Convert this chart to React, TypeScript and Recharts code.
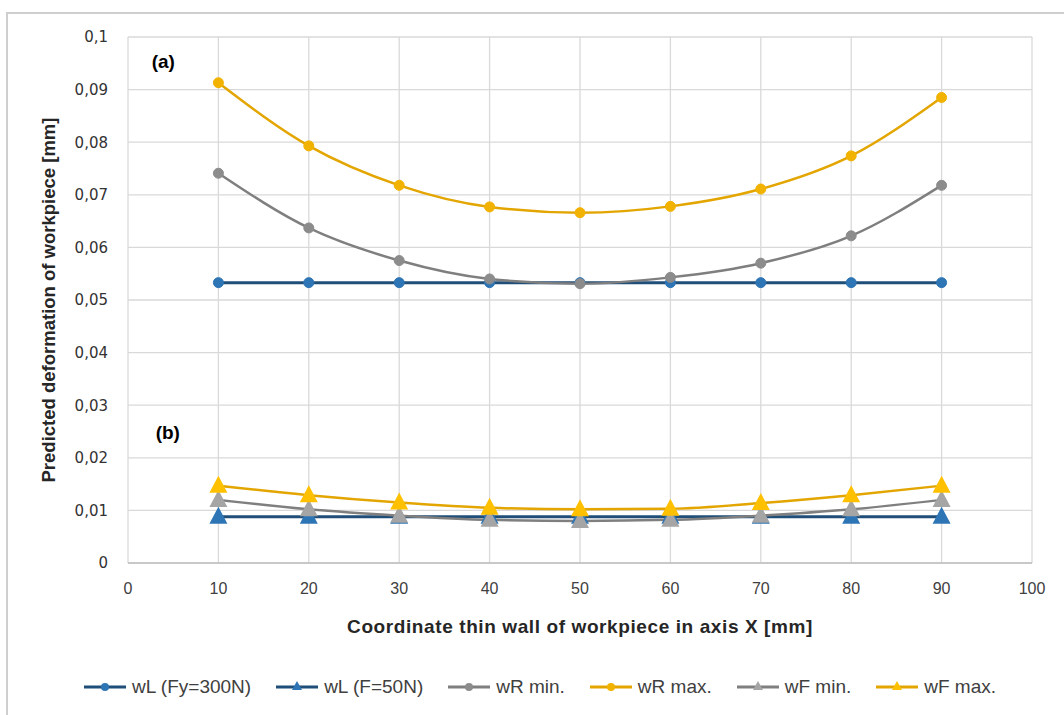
import { CartesianGrid, Line, LineChart, ReferenceDot, XAxis, YAxis } from "recharts";

// coordinate along the thin wall [mm]
const positions = [10, 20, 30, 40, 50, 60, 70, 80, 90];

// predicted deformation [mm]
const wlFy300 = [0.0533, 0.0533, 0.0533, 0.0533, 0.0533, 0.0533, 0.0533, 0.0533, 0.0533];
const wlF50 = [0.0088, 0.0088, 0.0088, 0.0088, 0.0088, 0.0088, 0.0088, 0.0088, 0.0088];
const wrMin = [0.0741, 0.0637, 0.0575, 0.054, 0.0531, 0.0543, 0.057, 0.0622, 0.0718];
const wrMax = [0.0913, 0.0793, 0.0718, 0.0677, 0.0666, 0.0678, 0.0711, 0.0774, 0.0885];
const wfMin = [0.012, 0.0102, 0.009, 0.0082, 0.008, 0.0082, 0.009, 0.0102, 0.012];
const wfMax = [0.0147, 0.0129, 0.0115, 0.0105, 0.0102, 0.0103, 0.0114, 0.0129, 0.0147];

const xTicks = [0, 10, 20, 30, 40, 50, 60, 70, 80, 90, 100];
const yTicks = [0, 0.01, 0.02, 0.03, 0.04, 0.05, 0.06, 0.07, 0.08, 0.09, 0.1];

const data = positions.map((x, i) => ({
  x,
  wlFy300: wlFy300[i],
  wlF50: wlF50[i],
  wrMin: wrMin[i],
  wrMax: wrMax[i],
  wfMin: wfMin[i],
  wfMax: wfMax[i],
}));

const SERIES = [
  { key: "wlFy300", name: "wL (Fy=300N)", line: "#1F4E79", mark: "#2E75B6", shape: "circle", smooth: false },
  { key: "wlF50", name: "wL (F=50N)", line: "#1F4E79", mark: "#2E75B6", shape: "triangle", smooth: false },
  { key: "wrMin", name: "wR min.", line: "#7F7F7F", mark: "#8C8C8C", shape: "circle", smooth: true },
  { key: "wrMax", name: "wR max.", line: "#E3A500", mark: "#F2B200", shape: "circle", smooth: true },
  { key: "wfMin", name: "wF min.", line: "#7F7F7F", mark: "#A5A5A5", shape: "triangle", smooth: true },
  { key: "wfMax", name: "wF max.", line: "#E3A500", mark: "#FFC000", shape: "triangle", smooth: true },
];

const TEXT = "#404040";

function triangleDot(fill: string) {
  return (props: any) => {
    const { cx, cy, index } = props;
    if (cx == null || cy == null) return <g key={index} />;
    return (
      <path
        key={index}
        d={`M${cx},${cy - 10} L${cx + 9},${cy + 7} L${cx - 9},${cy + 7} Z`}
        fill={fill}
      />
    );
  };
}

function fmtY(v: number): string {
  if (v === 0) return "0";
  return v.toFixed(2).replace(/0$/, "").replace(".", ",");
}

function LegendIcon({ line, mark, shape }: { line: string; mark: string; shape: string }) {
  return (
    <svg width={44} height={16} style={{ marginRight: 5 }}>
      <line x1={1} y1={8} x2={43} y2={8} stroke={line} strokeWidth={3} />
      {shape === "circle" ? (
        <circle cx={22} cy={8} r={4} fill={mark} />
      ) : (
        <path d="M22,2 L27,11 L17,11 Z" fill={mark} />
      )}
    </svg>
  );
}

export default function App() {
  return (
    <div
      style={{
        position: "absolute",
        left: 0,
        top: 0,
        width: 1064,
        height: 715,
        overflow: "hidden",
        background: "#FFFFFF",
        fontFamily: "'Liberation Sans', Arial, sans-serif",
      }}
    >
      <div
        style={{
          position: "absolute",
          left: 6,
          top: 12,
          width: 1120,
          height: 760,
          border: "2px solid #CFCFCF",
        }}
      />
      <div style={{ position: "absolute", left: 0, top: 0 }}>
        <LineChart
          width={1064}
          height={715}
          data={data}
          margin={{ top: 37, right: 32, left: 0, bottom: 77 }}
        >
          <CartesianGrid stroke="#D9D9D9" strokeWidth={1.3} />
          <XAxis
            type="number"
            dataKey="x"
            domain={[0, 100]}
            ticks={xTicks}
            height={75}
            tickLine={false}
            axisLine={{ stroke: "#BFBFBF", strokeWidth: 1.5 }}
            tick={{ fontSize: 16, fill: TEXT }}
            tickMargin={14}
            label={{
              value: "Coordinate thin wall of workpiece in axis X [mm]",
              position: "insideBottom",
              offset: 5,
              fill: "#262626",
              fontSize: 19,
              fontWeight: 700,
              style: { letterSpacing: "0.6px" },
            }}
          />
          <YAxis
            type="number"
            domain={[0, 0.1]}
            ticks={yTicks}
            width={128}
            tickLine={false}
            axisLine={false}
            tickFormatter={fmtY}
            tick={{ fontSize: 15, fill: "#333333", fontFamily: "'DejaVu Sans', sans-serif" }}
            tickMargin={14}
            label={{
              value: "Predicted deformation of workpiece [mm]",
              angle: -90,
              position: "insideLeft",
              offset: 48,
              fill: "#262626",
              fontSize: 18.5,
              fontWeight: 700,
              style: { textAnchor: "middle" },
            }}
          />
          {SERIES.map((s) => (
            <Line
              key={s.key}
              dataKey={s.key}
              name={s.name}
              type={s.smooth ? "monotone" : "linear"}
              stroke={s.line}
              strokeWidth={s.key === "wlFy300" || s.key === "wlF50" ? 3 : 2.5}
              dot={
                s.shape === "circle"
                  ? { r: 5, fill: s.mark, stroke: s.mark, strokeWidth: 1 }
                  : triangleDot(s.mark)
              }
              activeDot={false}
              isAnimationActive={false}
            />
          ))}
          <ReferenceDot
            x={3.9}
            y={0.0954}
            r={0}
            fill="none"
            stroke="none"
            label={{ value: "(a)", position: "center", fill: "#000", fontSize: 19, fontWeight: 700 }}
          />
          <ReferenceDot
            x={4.4}
            y={0.0248}
            r={0}
            fill="none"
            stroke="none"
            label={{ value: "(b)", position: "center", fill: "#000", fontSize: 19, fontWeight: 700 }}
          />
        </LineChart>
      </div>
      <div
        style={{
          position: "absolute",
          top: 676,
          left: 83,
          display: "flex",
          gap: 24,
          fontSize: 19,
          color: TEXT,
        }}
      >
        {SERIES.map((s) => (
          <div key={s.key} style={{ display: "flex", alignItems: "center" }}>
            <LegendIcon line={s.line} mark={s.mark} shape={s.shape} />
            <span>{s.name}</span>
          </div>
        ))}
      </div>
    </div>
  );
}
